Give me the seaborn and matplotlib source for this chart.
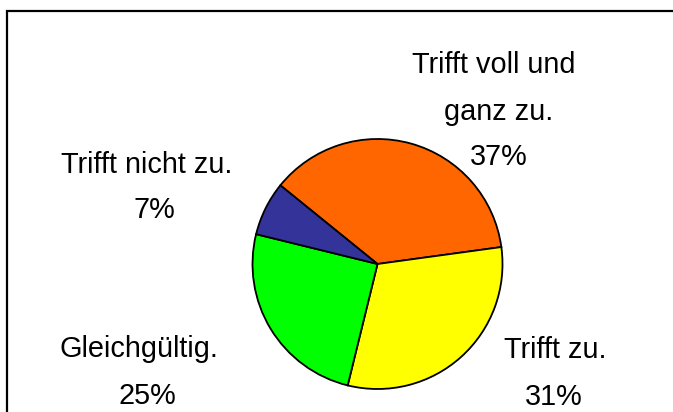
import matplotlib
matplotlib.use("Agg")
import matplotlib.pyplot as plt
import matplotlib.patches as mpatches
import seaborn as sns

# data
labels = ["Trifft voll und\nganz zu.", "Trifft zu.", "Gleichgültig.", "Trifft nicht zu."]
values = [37, 31, 25, 7]
colors = ["#FF6600", "#FFFF00", "#00FF00", "#333399"]

sns.set_style("white")
plt.rcParams['font.family'] = ['Liberation Sans', 'DejaVu Sans']
plt.rcParams['text.color'] = 'black'

W, H = 673, 412
fig = plt.figure(figsize=(W / 100, H / 100), dpi=100)

# pie: centre ~ (377.5, 264) px, radius 125 px
cx, cy, r = 377.5, 264, 125
ax = fig.add_axes([(cx - r) / W, (H - cy - r) / H, 2 * r / W, 2 * r / H])
ax.pie(values, colors=colors, startangle=141, counterclock=False,
       wedgeprops=dict(edgecolor="black", linewidth=1.3))
ax.set_xlim(-1, 1)
ax.set_ylim(-1, 1)
ax.axis("off")

# label positions in pixels: (x centre of label, baseline of first line, x centre of pct, baseline of pct)
pos = [(494, 73, 499, 165), (555, 358, 554, 405), (139, 357, 147, 404), (147, 173, 154, 218)]
for lab, v, (lx, ly, px, py) in zip(labels, values, pos):
    lines = lab.split("\n")
    for i, line in enumerate(lines):
        fig.text(lx / W if i == 0 else 499 / W, 1 - (ly + 47 * i) / H, line,
                 ha="center", va="baseline", fontsize=20.8, color="black")
    fig.text(px / W, 1 - py / H, f"{v}%", ha="center", va="baseline", fontsize=20.8, color="black")

# chart area frame (cut off at right and bottom)
frame = mpatches.Rectangle((6.5 / W, -0.05), 1.0, 1 - 10.5 / H + 0.05, transform=fig.transFigure,
                           fill=False, edgecolor="black", linewidth=1.6)
fig.patches.append(frame)

fig.savefig("out.png", dpi=100)
